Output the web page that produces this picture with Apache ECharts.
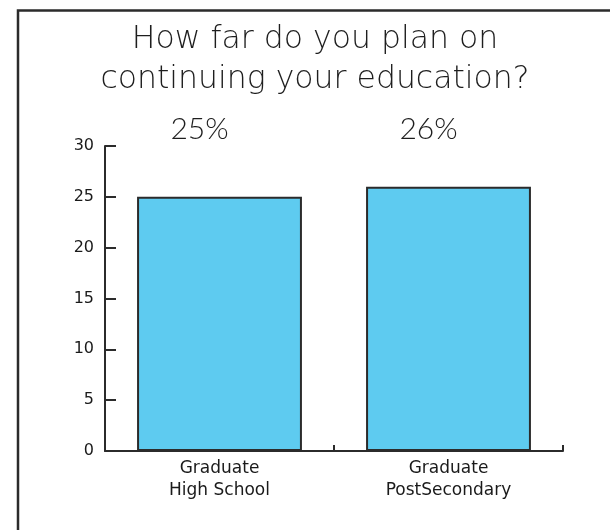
<!DOCTYPE html>
<html>
<head>
<meta charset="utf-8">
<style>
  html, body { margin: 0; padding: 0; background: #fff; }
  #chart { width: 610px; height: 530px; }
</style>
<script src="https://cdn.jsdelivr.net/npm/echarts@6/dist/echarts.min.js"></script>
</head>
<body>
<div id="chart"></div>
<script>
// ---- data ----
var titleText = 'How far do you plan on\ncontinuing your education?';
var categories = ['Graduate\nHigh School', 'Graduate\nPostSecondary'];
var values = [25, 26];
var valueLabels = ['25%', '26%'];
var yTicks = [0, 5, 10, 15, 20, 25, 30];

var chart = echarts.init(document.getElementById('chart'), null, { renderer: 'canvas' });

var ink = '#2b2b2b';
var option = {
  backgroundColor: '#ffffff',
  animation: false,
  title: {
    text: titleText,
    left: 310,
    top: 15,
    textAlign: 'center',
    textStyle: {
      fontFamily: '"DejaVu Sans", sans-serif',
      fontWeight: 200,
      fontSize: 31.5,
      lineHeight: 40,
      color: '#1e1e1e'
    }
  },
  graphic: [{
    type: 'polyline',
    shape: { points: [[18, 530], [18, 10.5], [610, 10.5]] },
    style: { stroke: ink, lineWidth: 2.5, fill: null },
    silent: true
  }],
  grid: { left: 105, right: 47, top: 146, bottom: 79 },
  xAxis: [{
    type: 'category',
    data: categories,
    position: 'bottom',
    axisLine: { lineStyle: { color: ink, width: 2 } },
    axisTick: { show: true, inside: true, length: 6, lineStyle: { color: ink, width: 2 } },
    axisLabel: {
      margin: 7,
      fontFamily: '"DejaVu Sans", sans-serif',
      fontSize: 17,
      lineHeight: 22,
      color: '#1a1a1a'
    }
  }, {
    type: 'category',
    data: categories,
    position: 'top',
    axisLine: { show: false },
    axisTick: { show: false },
    axisLabel: {
      margin: 2,
      formatter: function (v, i) { return valueLabels[i]; },
      padding: [0, 40, 0, 0],
      fontFamily: 'Lato, "Noto Sans", sans-serif',
      fontWeight: 300,
      fontSize: 30,
      color: '#1e1e1e'
    }
  }],
  yAxis: {
    type: 'value',
    min: yTicks[0],
    max: yTicks[yTicks.length - 1],
    interval: 5,
    splitLine: { show: false },
    axisLine: { show: true, lineStyle: { color: ink, width: 2 } },
    axisTick: { show: true, inside: true, length: 11, lineStyle: { color: ink, width: 2 } },
    axisLabel: {
      margin: 11,
      fontFamily: '"DejaVu Sans", sans-serif',
      fontSize: 16,
      color: '#1a1a1a'
    }
  },
  series: [{
    type: 'bar',
    xAxisIndex: 0,
    data: values,
    barCategoryGap: '28%',
    itemStyle: {
      color: '#5ecbf0',
      borderColor: ink,
      borderWidth: 2
    }
  }]
};
chart.setOption(option);
</script>
</body>
</html>
